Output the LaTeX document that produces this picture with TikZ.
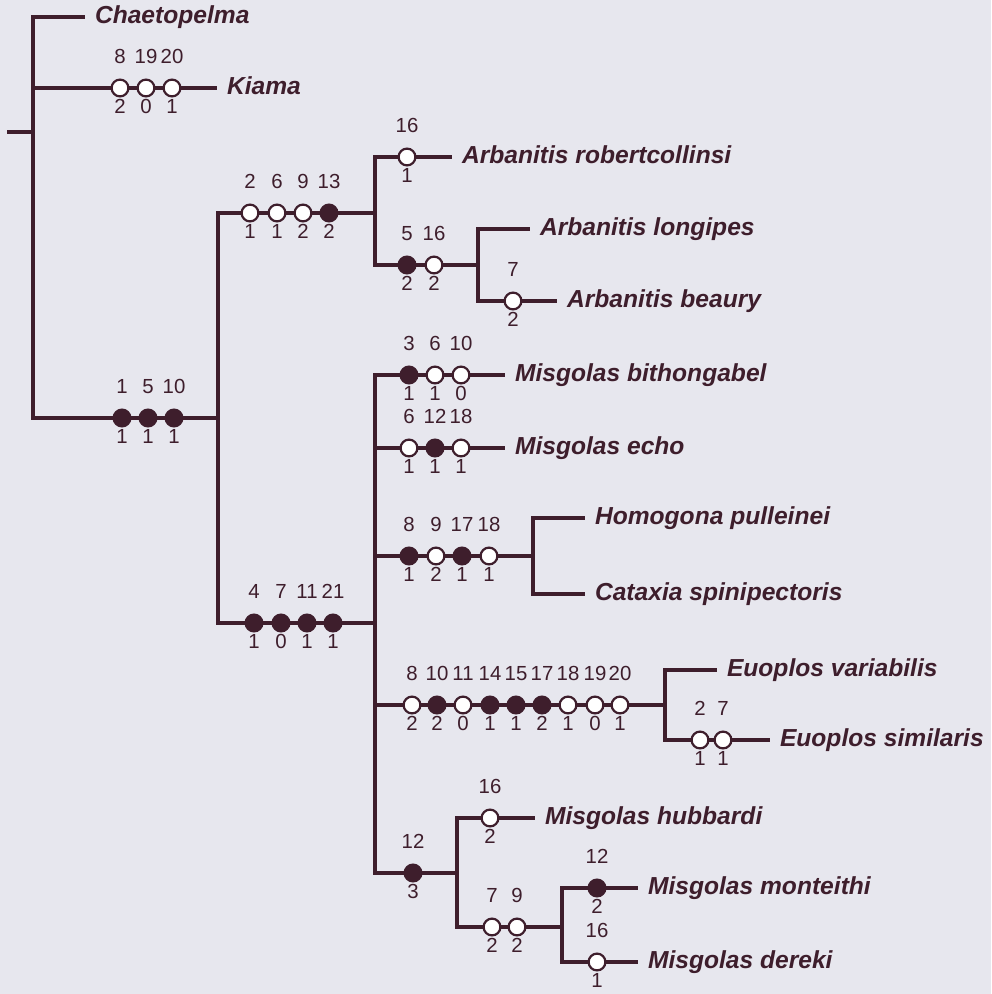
\documentclass[tikz,border=0pt]{standalone}
\usepackage{fontspec}
\setmainfont{Liberation Sans}
\usetikzlibrary{positioning}
\definecolor{colInk}{RGB}{62,30,44}
\definecolor{colBack}{RGB}{231,231,238}
\definecolor{colOpen}{RGB}{255,255,255}
\tikzset{
  branch/.style = {draw=colInk, line width=0.85mm},
  taxon/.style  = {anchor=west, inner sep=0pt, outer xsep=2.5mm, text=colInk,
                   font=\fontsize{17.5}{20}\selectfont\bfseries\itshape,
                   text height=0.9em, text depth=0pt},
  chr/.style    = {circle, draw=colInk, line width=0.55mm, minimum size=4.2mm,
                   inner sep=0pt},
  num/.style    = {inner sep=0pt, text=colInk, font=\fontsize{14.5}{16}\selectfont,
                   text height=0.72em, text depth=0pt},
}
% one row of character states on a branch: prefix, y, {x/fill/char/state, ...}
\newcommand{\charrow}[3]{%
  \foreach \chx/\chf/\chn/\chs [count=\chi] in {#3} {
    \node[chr, fill=\chf] (#1\chi) at (\chx,#2) {};
    \node[num, above=3.6mm of #1\chi]  {\chn};
    \node[num, below=1.5mm of #1\chi] {\chs};
  }%
}

\begin{document}
\begin{tikzpicture}[x=0.25mm, y=-0.25mm]

\fill[colBack] (0,0) rectangle (991,994);
\useasboundingbox (0,0) rectangle (991,994);

%% -- junctions ---------------------------------------------------------------
\coordinate (stub) at (7,132);
\coordinate (n0)   at (33,132);
\coordinate (n1)   at (218,418);
\coordinate (n2)   at (375,213);
\coordinate (n3)   at (478,265);
\coordinate (n5)   at (375,623);
\coordinate (n6)   at (533,556);
\coordinate (n7)   at (665,705);
\coordinate (n8)   at (457,873);
\coordinate (n9)   at (562,927);

%% -- taxa --------------------------------------------------------------------
\node[taxon] (chae) at (85,17)   {Chaetopelma};
\node[taxon] (kiam) at (217,88)  {Kiama};
\node[taxon] (arob) at (452,157) {Arbanitis robertcollinsi};
\node[taxon] (alon) at (530,229) {Arbanitis longipes};
\node[taxon] (abea) at (557,301) {Arbanitis beaury};
\node[taxon] (mbit) at (505,375) {Misgolas bithongabel};
\node[taxon] (mech) at (505,448) {Misgolas echo};
\node[taxon] (hpul) at (585,518) {Homogona pulleinei};
\node[taxon] (cspi) at (585,594) {Cataxia spinipectoris};
\node[taxon] (evar) at (717,670) {Euoplos variabilis};
\node[taxon] (esim) at (770,740) {Euoplos similaris};
\node[taxon] (mhub) at (535,818) {Misgolas hubbardi};
\node[taxon] (mmon) at (638,888) {Misgolas monteithi};
\node[taxon] (mder) at (638,962) {Misgolas dereki};

%% -- branches ----------------------------------------------------------------
\draw[branch] (stub) -- (n0);
\draw[branch] (n0) |- (chae.west);
\draw[branch] (n0) |- (kiam.west);
\draw[branch] (n0) |- (n1);
\draw[branch] (n1) |- (n2);
\draw[branch] (n1) |- (n5);
\draw[branch] (n2) |- (arob.west);
\draw[branch] (n2) |- (n3);
\draw[branch] (n3) |- (alon.west);
\draw[branch] (n3) |- (abea.west);
\draw[branch] (n5) |- (mbit.west);
\draw[branch] (n5) |- (mech.west);
\draw[branch] (n5) |- (n6);
\draw[branch] (n5) |- (n7);
\draw[branch] (n5) |- (n8);
\draw[branch] (n6) |- (hpul.west);
\draw[branch] (n6) |- (cspi.west);
\draw[branch] (n7) |- (evar.west);
\draw[branch] (n7) |- (esim.west);
\draw[branch] (n8) |- (mhub.west);
\draw[branch] (n8) |- (n9);
\draw[branch] (n9) |- (mmon.west);
\draw[branch] (n9) |- (mder.west);

%% -- character states --------------------------------------------------------
\charrow{kia}{88}{120/colOpen/8/2, 146/colOpen/19/0, 172/colOpen/20/1}
\charrow{b1}{418}{122/colInk/1/1, 148/colInk/5/1, 174/colInk/10/1}
\charrow{b2}{213}{250/colOpen/2/1, 277/colOpen/6/1, 303/colOpen/9/2, 329/colInk/13/2}
\charrow{aro}{157}{407/colOpen/16/1}
\charrow{b3}{265}{407/colInk/5/2, 434/colOpen/16/2}
\charrow{abe}{301}{513/colOpen/7/2}
\charrow{b5}{623}{254/colInk/4/1, 281/colInk/7/0, 307/colInk/11/1, 333/colInk/21/1}
\charrow{mbi}{375}{409/colInk/3/1, 435/colOpen/6/1, 461/colOpen/10/0}
\charrow{mec}{448}{409/colOpen/6/1, 435/colInk/12/1, 461/colOpen/18/1}
\charrow{b6}{556}{409/colInk/8/1, 436/colOpen/9/2, 462/colInk/17/1, 489/colOpen/18/1}
\charrow{b7}{705}{412/colOpen/8/2, 437/colInk/10/2, 463/colOpen/11/0,
  490/colInk/14/1, 516/colInk/15/1, 542/colInk/17/2,
  568/colOpen/18/1, 595/colOpen/19/0, 620/colOpen/20/1}
\charrow{esi}{740}{700/colOpen/2/1, 723/colOpen/7/1}
\charrow{b8}{873}{413/colInk/12/3}
\charrow{mhu}{818}{490/colOpen/16/2}
\charrow{b9}{927}{492/colOpen/7/2, 517/colOpen/9/2}
\charrow{mmo}{888}{597/colInk/12/2}
\charrow{mde}{962}{597/colOpen/16/1}

\end{tikzpicture}
\end{document}
